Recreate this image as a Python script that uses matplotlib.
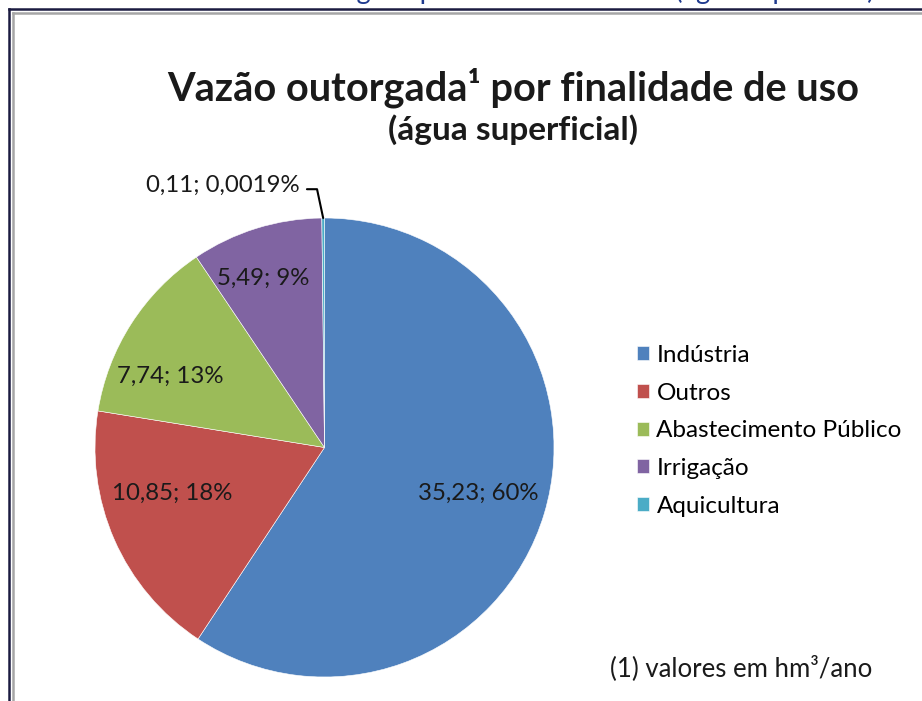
"""
Pie chart: vazao outorgada por finalidade de uso (agua superficial).
Saves out.png (922x701).
"""

import numpy as np
import matplotlib.pyplot as plt
from matplotlib.lines import Line2D

# --- Dados ---------------------------------------------------------------
categorias = ["Indústria", "Outros", "Abastecimento Público", "Irrigação", "Aquicultura"]
vazoes     = [35.23, 10.85, 7.74, 5.49, 0.11]
vazoes_txt = ["35,23", "10,85", "7,74", "5,49", "0,11"]
percent_txt = ["60%", "18%", "13%", "9%", "0,0019%"]

# --- Estilo --------------------------------------------------------------
CORES = ["#4F81BD", "#C0504D", "#9BBB59", "#8064A2", "#4BACC6"]
TXT = "#1a1a1a"
FONT = "Lato"

# angular nudge (deg) and radius for the inside labels
LABEL_NUDGE = [0.0, -6.8, 7.7, 2.7]
LABEL_R     = [0.70, 0.695, 0.74, 0.785]

W, H = 922, 701
plt.rcParams.update({"font.family": FONT})

fig = plt.figure(figsize=(W / 100, H / 100), dpi=100)

# frame around the chart (runs off the right/bottom edges)
for off, clr, lw in [(8.5, "#1b1b40", 1.8), (12.5, "#a6a6a6", 1.8)]:
    fig.add_artist(Line2D([off / W, 1], [1 - off / H, 1 - off / H],
                          color=clr, lw=lw, transform=fig.transFigure))
    fig.add_artist(Line2D([off / W, off / W], [0, 1 - off / H],
                          color=clr, lw=lw, transform=fig.transFigure))

# cropped caption above the frame, only descenders show
fig.text(874 / W, 1 + 0.5 / H, "Vazão outorgada por finalidade de uso (água superficial)",
         ha="right", va="baseline", fontsize=19.5, color="#1f3a8f")

# titles
fig.text(513 / W, 1 - 88 / H, "Vazão outorgada¹ por finalidade de uso",
         ha="center", va="center", fontsize=28.6, fontweight="bold", color=TXT)
fig.text(513 / W, 1 - 130 / H, "(água superficial)",
         ha="center", va="center", fontsize=24, fontweight="bold", color=TXT)

# --- Pie -----------------------------------------------------------------
ax = fig.add_axes([95 / W, 24 / H, 459 / W, 459 / H])
wedges, _ = ax.pie(vazoes, colors=CORES, startangle=90, counterclock=False,
                   radius=1.0, wedgeprops=dict(edgecolor="white", linewidth=0.4))
ax.set_xlim(-1, 1)
ax.set_ylim(-1, 1)
ax.set_aspect("equal")

for i, w in enumerate(wedges[:4]):
    ang = np.deg2rad((w.theta1 + w.theta2) / 2 + LABEL_NUDGE[i])
    ax.text(LABEL_R[i] * np.cos(ang), LABEL_R[i] * np.sin(ang),
            f"{vazoes_txt[i]}; {percent_txt[i]}",
            ha="center", va="center", fontsize=17.3, color=TXT)

# tiny slice: label outside with leader line
w = wedges[4]
ang = np.deg2rad((w.theta1 + w.theta2) / 2)
ax.annotate(f"{vazoes_txt[4]}; {percent_txt[4]}",
            xy=(np.cos(ang), np.sin(ang)), xycoords="data",
            xytext=(300, H - 185), textcoords="figure pixels",
            ha="right", va="center", fontsize=17.3, color=TXT,
            arrowprops=dict(arrowstyle="-", color="black", lw=1.5,
                            relpos=(1.0, 0.3), shrinkA=3, shrinkB=0,
                            connectionstyle="angle,angleA=0,angleB=102,rad=0"))

# --- Legend --------------------------------------------------------------
fig.legend(wedges, categorias, loc="upper left",
           bbox_to_anchor=(637 / W, 1 - 345 / H),
           frameon=False, fontsize=17.5, handlelength=0.5, handleheight=0.5,
           handletextpad=0.3, labelspacing=0.685, borderpad=0, borderaxespad=0)

fig.text(610 / W, 1 - 668 / H, "(1) valores em hm³/ano",
         ha="left", va="center", fontsize=18.5, color=TXT)

fig.savefig("out.png", dpi=100)
